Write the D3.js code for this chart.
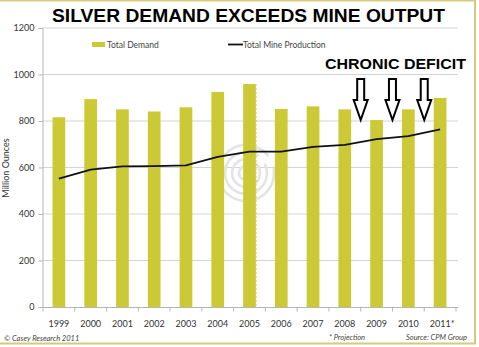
<!DOCTYPE html>
<html>
<head>
<meta charset="utf-8">
<script src="https://cdn.jsdelivr.net/npm/d3@7.9.0/dist/d3.min.js"></script>
<style>
  html, body { margin: 0; padding: 0; background: #fff; }
  svg { display: block; }
  text { font-family: Lato, "Open Sans", sans-serif; }
</style>
</head>
<body>
<svg id="chart" width="479" height="347"></svg>
<script>
// data
const years = ['1999', '2000', '2001', '2002', '2003', '2004', '2005', '2006', '2007', '2008', '2009', '2010', '2011*'];
const totalDemand = [816, 894, 850, 841, 859, 925, 959, 852, 863, 850, 804, 850, 899];
const mineProduction = [552, 591, 605, 606, 609, 646, 668, 668, 689, 697, 722, 735, 764];
const yTicks = [0, 200, 400, 600, 800, 1000, 1200];
// arrows sit between these pairs of years
const deficitPairs = [['2008', '2009'], ['2009', '2010'], ['2010', '2011*']];

const BAR_COLOR = '#cbca36';
const svg = d3.select('#chart');

// frame around the whole picture
svg.append('rect')
  .attr('x', -2).attr('y', 0.5)
  .attr('width', 477).attr('height', 343)
  .attr('fill', 'none')
  .attr('stroke', '#d6cb7c')
  .attr('stroke-width', 2);

const x = d3.scaleBand().domain(years).range([43, 456]).paddingInner(0.6).paddingOuter(0.3);
const y = d3.scaleLinear().domain([0, 1200]).range([307, 28]);
const step = x.step();

// gridlines
svg.append('g')
  .selectAll('line')
  .data(yTicks.slice(1))
  .enter()
  .append('line')
  .attr('x1', 42).attr('x2', 458)
  .attr('y1', d => y(d)).attr('y2', d => y(d))
  .attr('stroke', '#d4d4d4')
  .attr('stroke-width', 1);

// watermark rings
const wm = svg.append('g').attr('transform', 'translate(246,173)');
[7, 14, 21, 28].forEach((r, i) => {
  wm.append('path')
    .attr('d', d3.arc().innerRadius(r - 1.3).outerRadius(r + 1.3)
      .startAngle(0.5 + i * 0.3).endAngle(0.5 + i * 0.3 + Math.PI * 1.85)())
    .attr('fill', '#e4e4e4');
});

// y axis
const yAxis = svg.append('g')
  .attr('transform', 'translate(42.5,0)')
  .call(d3.axisLeft(y).tickValues(yTicks).tickSize(4).tickPadding(4).tickFormat(d3.format('d')));
yAxis.select('.domain').attr('stroke', '#b5b5b5');
yAxis.selectAll('.tick line').attr('stroke', '#b5b5b5');
yAxis.selectAll('.tick text')
  .attr('fill', '#333')
  .style('font-size', '9px')
  .style('font-family', 'Lato, sans-serif');

// bars
svg.append('g')
  .selectAll('rect')
  .data(years)
  .enter()
  .append('rect')
  .attr('x', d => x(d))
  .attr('width', x.bandwidth())
  .attr('y', (d, i) => y(totalDemand[i]))
  .attr('height', (d, i) => y(0) - y(totalDemand[i]))
  .attr('fill', BAR_COLOR);

// faint dashed artifact on the 2005 bar edge
svg.append('line')
  .attr('x1', x('2005') + x.bandwidth() + 0.5).attr('x2', x('2005') + x.bandwidth() + 0.5)
  .attr('y1', y(totalDemand[6])).attr('y2', y(0))
  .attr('stroke', '#d8964a')
  .attr('stroke-width', 0.7)
  .attr('stroke-dasharray', '2,2')
  .attr('opacity', 0.6);

// x axis, ticks at category boundaries
const xAxisG = svg.append('g').attr('transform', 'translate(0,307.5)');
xAxisG.append('line')
  .attr('x1', 42).attr('x2', 458)
  .attr('stroke', '#b5b5b5');
const bounds = years.map(d => x(d) - step * x.paddingInner() / 2).concat([x(years[years.length - 1]) + x.bandwidth() + step * x.paddingInner() / 2]);
xAxisG.selectAll('line.tk')
  .data(bounds)
  .enter()
  .append('line')
  .attr('class', 'tk')
  .attr('x1', d => d).attr('x2', d => d)
  .attr('y1', 0).attr('y2', 4)
  .attr('stroke', '#b5b5b5');
xAxisG.selectAll('text')
  .data(years)
  .enter()
  .append('text')
  .attr('x', d => x(d) + x.bandwidth() / 2 + (d.endsWith('*') ? 2 : 0))
  .attr('y', 19)
  .attr('text-anchor', 'middle')
  .attr('fill', '#333')
  .style('font-size', '9px')
  .text(d => d);

// mine production line
const line = d3.line()
  .x((d, i) => x(years[i]) + x.bandwidth() / 2)
  .y(d => y(d));
svg.append('path')
  .datum(mineProduction)
  .attr('d', line)
  .attr('fill', 'none')
  .attr('stroke', '#111')
  .attr('stroke-width', 1.8);

// y axis title
svg.append('text')
  .attr('transform', 'translate(9,168) rotate(-90)')
  .attr('text-anchor', 'middle')
  .attr('fill', '#333')
  .style('font-size', '9px')
  .text('Million Ounces');

// legend
svg.append('rect')
  .attr('x', 92).attr('y', 42).attr('width', 13).attr('height', 5)
  .attr('fill', BAR_COLOR);
svg.append('text')
  .attr('x', 107).attr('y', 47.5)
  .attr('fill', '#444')
  .style('font-size', '8.5px')
  .text('Total Demand');
svg.append('line')
  .attr('x1', 228).attr('x2', 243).attr('y1', 44.5).attr('y2', 44.5)
  .attr('stroke', '#111').attr('stroke-width', 1.8);
svg.append('text')
  .attr('x', 243).attr('y', 47.5)
  .attr('fill', '#444')
  .style('font-size', '8.5px')
  .text('Total Mine Production');

// title
svg.append('text')
  .attr('x', 52).attr('y', 22)
  .attr('textLength', 393)
  .attr('lengthAdjust', 'spacingAndGlyphs')
  .attr('fill', '#000')
  .style('font-family', '"Liberation Sans", Arial, sans-serif')
  .style('font-weight', 'bold')
  .style('font-size', '19px')
  .text('SILVER DEMAND EXCEEDS MINE OUTPUT');

// annotation
svg.append('text')
  .attr('x', 325).attr('y', 69)
  .attr('textLength', 141)
  .attr('lengthAdjust', 'spacingAndGlyphs')
  .attr('fill', '#000')
  .style('font-family', '"Liberation Sans", Arial, sans-serif')
  .style('font-weight', 'bold')
  .style('font-size', '15.5px')
  .text('CHRONIC DEFICIT');

svg.append('g')
  .selectAll('path')
  .data(deficitPairs)
  .enter()
  .append('path')
  .attr('transform', d => {
    const cx = (x(d[0]) + x(d[1]) + x.bandwidth()) / 2;
    return `translate(${cx},0)`;
  })
  .attr('d', 'M-3.5,79 L3.5,79 L3.5,100 L7,100 L0,120 L-7,100 L-3.5,100 Z')
  .attr('fill', '#fff')
  .attr('stroke', '#000')
  .attr('stroke-width', 2)
  .attr('stroke-linejoin', 'miter');

// footnotes
svg.append('text')
  .attr('x', 4).attr('y', 341)
  .attr('fill', '#444')
  .style('font-size', '7.5px')
  .style('font-style', 'italic')
  .text('\u00A9 Casey Research 2011');
svg.append('text')
  .attr('x', 329).attr('y', 340)
  .attr('fill', '#444')
  .style('font-size', '7.5px')
  .style('font-style', 'italic')
  .text('* Projection');
svg.append('text')
  .attr('x', 467).attr('y', 340)
  .attr('text-anchor', 'end')
  .attr('fill', '#444')
  .style('font-size', '7.5px')
  .style('font-style', 'italic')
  .text('Source: CPM Group');
</script>
</body>
</html>
